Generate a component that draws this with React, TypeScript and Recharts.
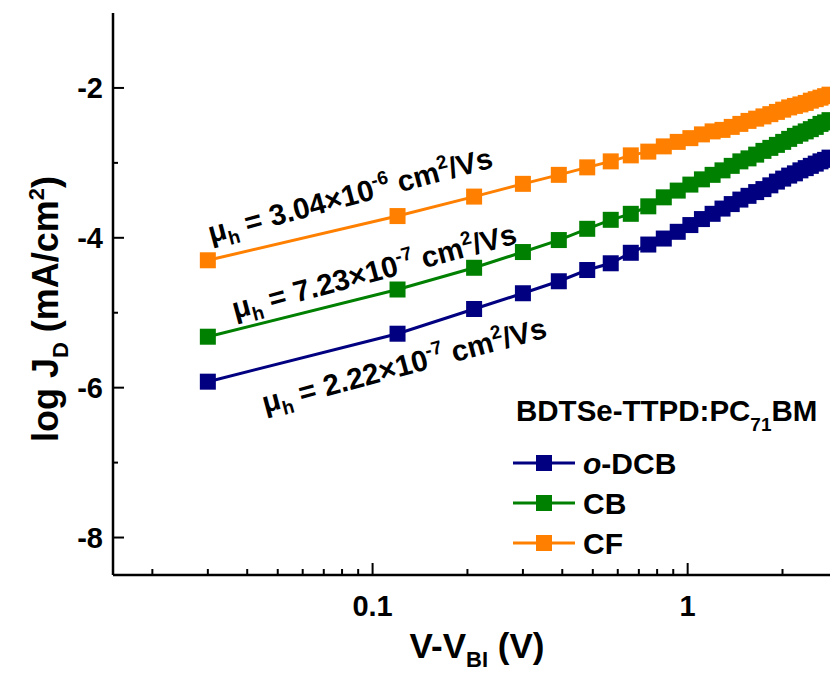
import React from "react";
import { LineChart, Line, XAxis, YAxis } from "recharts";

// V - V_BI (V)
const voltage = [
  0.03, 0.12, 0.21, 0.3, 0.39, 0.48, 0.57, 0.66, 0.75, 0.84, 0.93, 1.02, 1.11, 1.2, 1.29, 1.38,
  1.47, 1.56, 1.65, 1.74, 1.83, 1.92, 2.01, 2.1, 2.19, 2.28, 2.37, 2.46, 2.55, 2.64, 2.73, 2.82,
];

// log J_D (mA/cm2)
const odcb = [
  -5.92, -5.28, -4.95, -4.74, -4.58, -4.43, -4.34, -4.2, -4.09, -4.01, -3.92, -3.83, -3.75, -3.68,
  -3.61, -3.55, -3.49, -3.44, -3.39, -3.35, -3.3, -3.25, -3.21, -3.17, -3.14, -3.1, -3.07, -3.04,
  -3.01, -2.98, -2.96, -2.93,
];
const cb = [
  -5.32, -4.69, -4.4, -4.19, -4.03, -3.88, -3.76, -3.68, -3.58, -3.46, -3.37, -3.29, -3.22, -3.16,
  -3.1, -3.04, -2.98, -2.94, -2.89, -2.84, -2.8, -2.76, -2.72, -2.68, -2.64, -2.61, -2.58, -2.55,
  -2.52, -2.48, -2.46, -2.43,
];
const cf = [
  -4.3, -3.71, -3.45, -3.28, -3.16, -3.06, -2.98, -2.9, -2.85, -2.78, -2.72, -2.67, -2.62, -2.58,
  -2.56, -2.52, -2.48, -2.44, -2.41, -2.38, -2.35, -2.32, -2.29, -2.26, -2.24, -2.22, -2.2, -2.17,
  -2.15, -2.13, -2.11, -2.09,
];

const seriesKeys = ["odcb", "cb", "cf"];
const seriesColors = ["#000080", "#008000", "#FF8000"];
const mobilities = ["2.22", "7.23", "3.04"];
const mobilityExp = ["-7", "-7", "-6"];

const xTicks = [
  0.02, 0.03, 0.04, 0.05, 0.06, 0.07, 0.08, 0.09, 0.1, 0.2, 0.3, 0.4, 0.5, 0.6, 0.7, 0.8, 0.9, 1, 2,
];
const xLabels = [0.1, 1];
const yTicks = [-8, -7, -6, -5, -4, -3, -2];
const yLabels = [-8, -6, -4, -2];

const data = voltage.map((v, i) => ({ v, odcb: odcb[i], cb: cb[i], cf: cf[i] }));

const FONT = "'Liberation Sans', Arial, Helvetica, sans-serif";

function BottomTick({ x, y, payload }: any) {
  const major = xLabels.includes(payload.value);
  return (
    <g>
      <line x1={x} x2={x} y1={y} y2={y - (major ? 12 : 6)} stroke="#000" strokeWidth={2} />
      {major && (
        <text x={x} y={y + 41} textAnchor="middle" fontSize={29} fontWeight="bold" fontFamily={FONT} fill="#000">
          {payload.value}
        </text>
      )}
    </g>
  );
}

function TopTick({ x, y, payload }: any) {
  const major = xLabels.includes(payload.value);
  return <line x1={x} x2={x} y1={y} y2={y + (major ? 12 : 6)} stroke="#000" strokeWidth={2} />;
}

function LeftTick({ x, y, payload }: any) {
  const major = yLabels.includes(payload.value);
  return (
    <g>
      <line x1={x} x2={x + (major ? 11 : 5)} y1={y} y2={y} stroke="#000" strokeWidth={2} />
      {major && (
        <text x={x - 10} y={y + 10} textAnchor="end" fontSize={29} fontWeight="bold" fontFamily={FONT} fill="#000">
          {payload.value}
        </text>
      )}
    </g>
  );
}

const squareDot = (color: string) => (props: any) => {
  const { cx, cy, index } = props;
  if (cx == null || cy == null) return <g key={index} />;
  return <rect key={index} x={cx - 8} y={cy - 8} width={16} height={16} fill={color} />;
};

// rotated mobility labels: [x, y] start of text baseline
const notePos = [
  [265, 413],
  [235, 319],
  [211, 243],
];

function Overlay() {
  const legendNames = [
    <tspan key="o"><tspan fontStyle="italic">o</tspan>-DCB</tspan>,
    <tspan key="cb">CB</tspan>,
    <tspan key="cf">CF</tspan>,
  ];
  return (
    <svg
      width={830}
      height={675}
      style={{ position: "absolute", left: 0, top: 0, pointerEvents: "none" }}
      fontFamily={FONT}
      fontWeight="bold"
    >
      {/* axis titles */}
      <text x={477} y={658} textAnchor="middle" fontSize={35}>
        V-V<tspan fontSize={22} dy={9}>BI</tspan>
        <tspan dy={-9}> (V)</tspan>
      </text>
      <text transform="translate(58 309) rotate(-90)" textAnchor="middle" fontSize={36}>
        log J<tspan fontSize={22} dy={10}>D</tspan>
        <tspan dy={-10}> (mA/cm</tspan>
        <tspan fontSize={22} dy={-14}>2</tspan>
        <tspan dy={14}>)</tspan>
      </text>

      {/* mobility annotations */}
      {notePos.map(([x, y], i) => (
        <text key={i} transform={`translate(${x} ${y}) rotate(-15)`} fontSize={29.5}>
          μ<tspan fontSize={19} dy={7}>h</tspan>
          <tspan dy={-7}> = {mobilities[i]}×10</tspan>
          <tspan fontSize={19} dy={-12}>{mobilityExp[i]}</tspan>
          <tspan dy={12}> cm</tspan>
          <tspan fontSize={19} dy={-12}>2</tspan>
          <tspan dy={12}>/Vs</tspan>
        </text>
      ))}

      {/* legend */}
      <text x={516} y={421} fontSize={29.5}>
        BDTSe-TTPD:PC<tspan fontSize={19} dy={10}>71</tspan>
        <tspan dy={-10}>BM</tspan>
      </text>
      {seriesColors.map((c, i) => {
        const cy = 463 + i * 40;
        return (
          <g key={i}>
            <line x1={513} x2={575} y1={cy} y2={cy} stroke={c} strokeWidth={3} />
            <rect x={536} y={cy - 8} width={16} height={16} fill={c} />
            <text x={583} y={cy + 11} fontSize={30}>
              {legendNames[i]}
            </text>
          </g>
        );
      })}
    </svg>
  );
}

export default function App() {
  return (
    <div style={{ position: "absolute", left: 0, top: 0, width: 830, height: 675, background: "#fff" }}>
      <LineChart width={830} height={675} data={data} margin={{ top: 13, right: 0, bottom: 0, left: 0 }}>
        <XAxis
          xAxisId="bottom"
          dataKey="v"
          type="number"
          scale="log"
          domain={[0.015, 2.83]}
          allowDataOverflow
          ticks={xTicks}
          tick={BottomTick}
          tickLine={false}
          tickSize={0}
          tickMargin={0}
          height={100}
          axisLine={{ stroke: "#000", strokeWidth: 2.5 }}
          interval={0}
        />
        <XAxis
          xAxisId="top"
          orientation="top"
          dataKey="v"
          type="number"
          scale="log"
          domain={[0.015, 2.83]}
          allowDataOverflow
          ticks={xTicks}
          tick={TopTick}
          tickLine={false}
          tickSize={0}
          tickMargin={0}
          height={0}
          axisLine={{ stroke: "#000", strokeWidth: 2.5 }}
          interval={0}
        />
        <YAxis
          yAxisId="left"
          type="number"
          domain={[-8.5, -1]}
          allowDataOverflow
          ticks={yTicks}
          tick={LeftTick}
          tickLine={false}
          tickSize={0}
          tickMargin={0}
          width={113}
          axisLine={{ stroke: "#000", strokeWidth: 2.5 }}
          interval={0}
        />
        {seriesKeys.map((k, i) => (
          <Line
            key={k}
            xAxisId="bottom"
            yAxisId="left"
            dataKey={k}
            stroke={seriesColors[i]}
            strokeWidth={3}
            dot={squareDot(seriesColors[i])}
            activeDot={false}
            isAnimationActive={false}
          />
        ))}
      </LineChart>
      <Overlay />
    </div>
  );
}
